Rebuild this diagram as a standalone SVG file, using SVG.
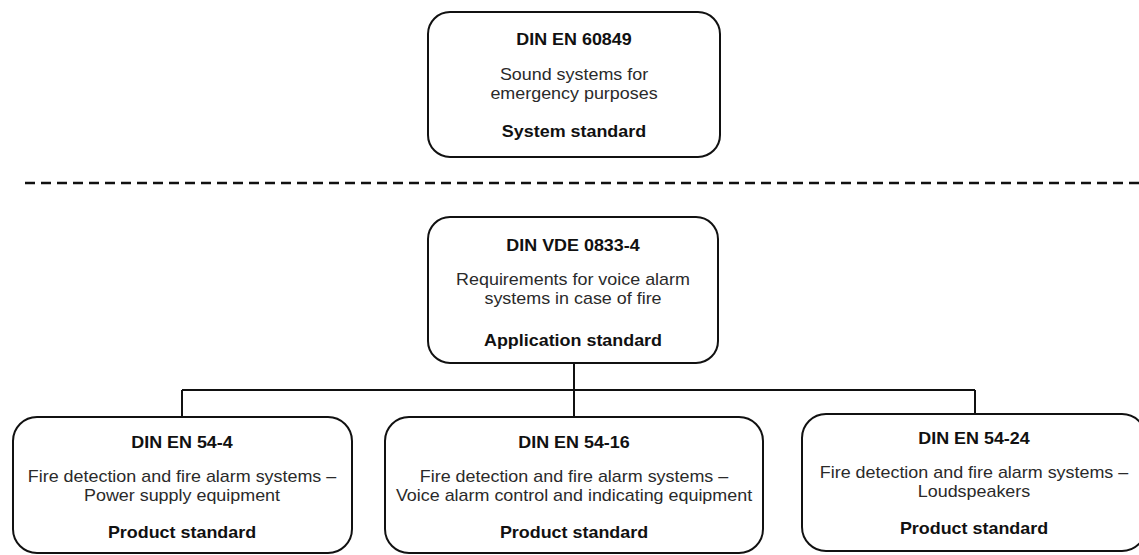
<svg xmlns="http://www.w3.org/2000/svg" width="1139" height="555" viewBox="0 0 1139 555">
<style>
.box{fill:#fff;stroke:#111;stroke-width:2}
.t{font-family:"Liberation Sans",Arial,sans-serif;font-size:16px;font-weight:bold;fill:#111;text-anchor:middle}
.b{font-family:"Liberation Sans",Arial,sans-serif;font-size:16px;fill:#2a2a2a;text-anchor:middle}
.ln{fill:none;stroke:#111;stroke-width:2}
.dash{fill:none;stroke:#111;stroke-width:2.5;stroke-dasharray:10 6}
</style>
<rect width="1139" height="555" fill="#fff"/>
<g id="separator"><line class="dash" x1="25" y1="183" x2="1139" y2="183"/></g>
<g id="connectors">
<path class="ln" d="M574 363 V390 M182 390 H975 M182 390 V417 M574 390 V417 M975 390 V414"/>
</g>
<g id="node-60849">
<rect class="box" x="428" y="12" width="292" height="145" rx="22"/>
<g transform="translate(574,0) scale(1.12,1)">
<text class="t" x="0" y="45">DIN EN 60849</text>
<text class="b" x="0" y="80">Sound systems for</text>
<text class="b" x="0" y="99">emergency purposes</text>
<text class="t" x="0" y="137">System standard</text>
</g>
</g>
<g id="node-0833">
<rect class="box" x="428" y="217" width="290" height="146" rx="22"/>
<g transform="translate(573,0) scale(1.12,1)">
<text class="t" x="0" y="251">DIN VDE 0833-4</text>
<text class="b" x="0" y="285">Requirements for voice alarm</text>
<text class="b" x="0" y="304">systems in case of fire</text>
<text class="t" x="0" y="346">Application standard</text>
</g>
</g>
<g id="node-54-4">
<rect class="box" x="13" y="417" width="339" height="136" rx="24"/>
<g transform="translate(182,0) scale(1.12,1)">
<text class="t" x="0" y="448">DIN EN 54-4</text>
<text class="b" x="0" y="482">Fire detection and fire alarm systems –</text>
<text class="b" x="0" y="501">Power supply equipment</text>
<text class="t" x="0" y="538">Product standard</text>
</g>
</g>
<g id="node-54-16">
<rect class="box" x="385" y="417" width="378" height="136" rx="24"/>
<g transform="translate(574,0) scale(1.12,1)">
<text class="t" x="0" y="448">DIN EN 54-16</text>
<text class="b" x="0" y="482">Fire detection and fire alarm systems –</text>
<text class="b" x="0" y="501">Voice alarm control and indicating equipment</text>
<text class="t" x="0" y="538">Product standard</text>
</g>
</g>
<g id="node-54-24">
<rect class="box" x="802" y="414" width="344" height="137" rx="24"/>
<g transform="translate(974,0) scale(1.12,1)">
<text class="t" x="0" y="444">DIN EN 54-24</text>
<text class="b" x="0" y="478">Fire detection and fire alarm systems –</text>
<text class="b" x="0" y="497">Loudspeakers</text>
<text class="t" x="0" y="534">Product standard</text>
</g>
</g>
</svg>
